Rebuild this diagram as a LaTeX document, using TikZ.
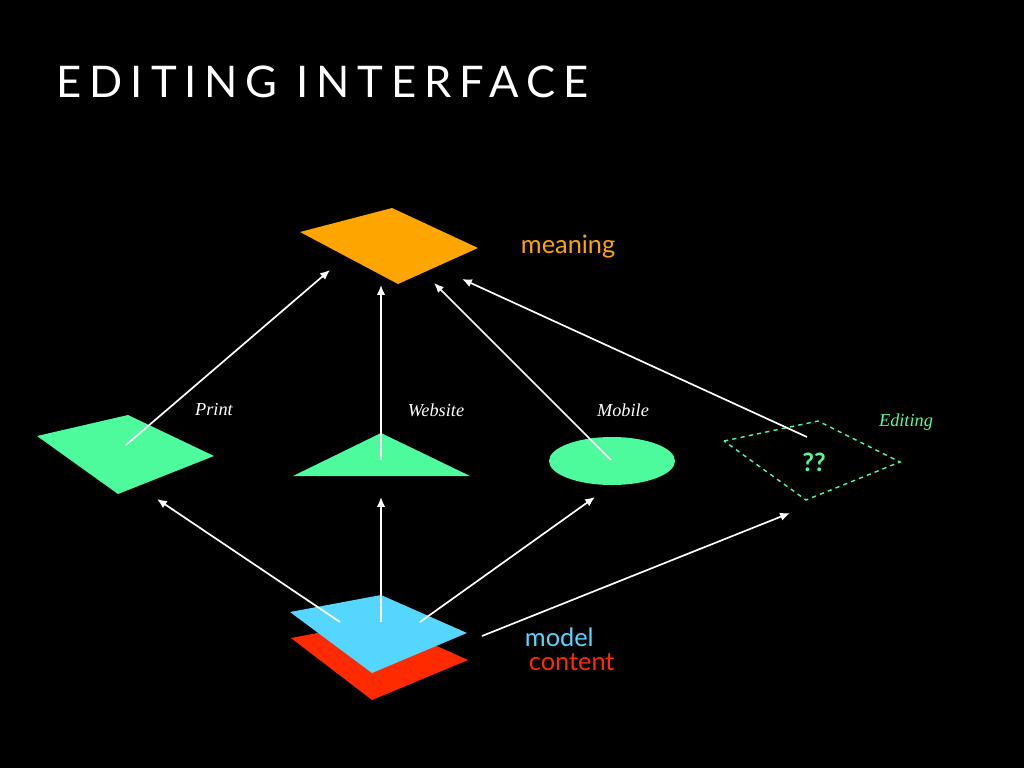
\documentclass[tikz,border=0pt]{standalone}
\usepackage{fontspec}
\setmainfont{Liberation Serif}
\setsansfont{Lato}
\usetikzlibrary{arrows.meta,positioning,shapes}
\definecolor{mango}{HTML}{FFA500}
\definecolor{mint}{HTML}{4DFB9C}
\definecolor{sky}{HTML}{55D6FF}
\definecolor{tomato}{HTML}{FF2A00}

\begin{document}
\begin{tikzpicture}[x=0.025cm, y=-0.025cm,
		flow_arrow/.style = {draw = white, line width = 1.2pt, -{Latex[length=7pt,width=6pt]}},
		side_label/.style = {font = \sffamily\fontsize{18}{20}\selectfont, anchor = west},
		way_label/.style = {font = \itshape\fontsize{13}{15}\selectfont, text = white},
		]
		\fill[black] (0,0) rectangle (1024,768);
		\useasboundingbox (0,0) rectangle (1024,768);

		%title
		\node[anchor = west, text = white, font = \sffamily\fontsize{31}{34}\selectfont\addfontfeature{LetterSpace=18}](title) at (52,82) {EDITING INTERFACE};

		%meaning
		\fill[mango] (300,232) -- (392,208) -- (478,248) -- (398,284) -- cycle;
		\node[side_label, text = mango](meaning) at (516,247) {meaning};

		%ways
		\fill[mint] (37,436) -- (128,415) -- (214,456) -- (118,494) -- cycle;
		\fill[mint] (293,476) -- (381,433) -- (470,476) -- cycle;
		\fill[mint] (612,461) ellipse [x radius = 63, y radius = 24];
		\draw[mint, dashed, line width = 1pt] (724,441) -- (818,421) -- (900,462) -- (806,500) -- cycle;
		\node[text = mint, font = \sffamily\bfseries\fontsize{18}{20}\selectfont](qq) at (814,462) {??};

		\node[way_label](print) at (214,410) {Print};
		\node[way_label](website) at (436,410) {Website};
		\node[way_label](mobile) at (623,410) {Mobile};
		\node[way_label, text = mint](editing) at (906,422) {Editing};

		%model and content
		\fill[tomato] (291,638) -- (381,621) -- (468,660) -- (372,700) -- cycle;
		\fill[sky] (290,612) -- (381,595) -- (467,633) -- (372,673) -- cycle;
		\node[side_label, text = sky](model) at (520,637) {model};
		\node[side_label, text = tomato](content) at (524,662) {content};

		%arrow ends
		\coordinate (p_from) at (126,445);  \coordinate (p_to) at (330,270);
		\coordinate (w_from) at (381,460);  \coordinate (w_to) at (381,285);
		\coordinate (m_from) at (611,460);  \coordinate (m_to) at (434,283);
		\coordinate (e_from) at (807,437);  \coordinate (e_to) at (462,279);
		\coordinate (b1) at (340,622);  \coordinate (t1) at (157,499);
		\coordinate (b2) at (381,622);  \coordinate (t2) at (381,497);
		\coordinate (b3) at (420,622);  \coordinate (t3) at (595,497);
		\coordinate (b4) at (482,636);  \coordinate (t4) at (790,513);

		\draw[flow_arrow] (p_from) -- (p_to);
		\draw[flow_arrow] (w_from) -- (w_to);
		\draw[flow_arrow] (m_from) -- (m_to);
		\draw[flow_arrow] (e_from) -- (e_to);
		\draw[flow_arrow] (b1) -- (t1);
		\draw[flow_arrow] (b2) -- (t2);
		\draw[flow_arrow] (b3) -- (t3);
		\draw[flow_arrow] (b4) -- (t4);

\end{tikzpicture}
\end{document}
